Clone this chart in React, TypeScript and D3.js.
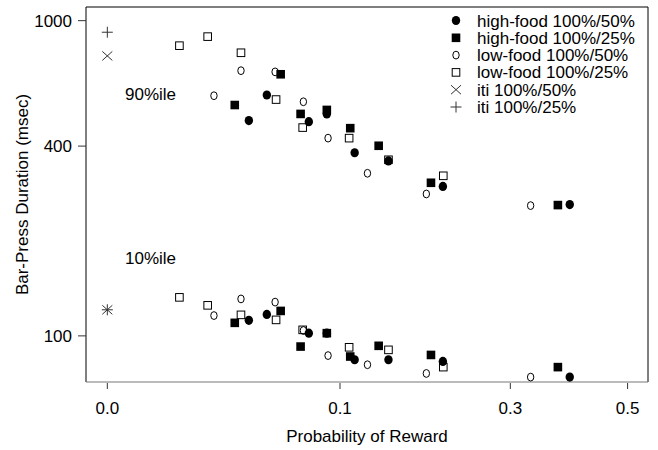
import React from "react";
import * as d3 from "d3";

const WIDTH = 658;
const HEIGHT = 450;
const PLOT = { left: 86, right: 648, top: 7, bottom: 382 };
const FONT = "'Liberation Sans', Arial, sans-serif";

// probability of reward (x) and the 90th / 10th percentile bar-press durations (msec)
const highFood50Prob = [0.037, 0.047, 0.075, 0.089, 0.113, 0.146, 0.208, 0.395];
const highFood50P90 = [482, 581, 478, 506, 381, 359, 298, 261];
const highFood50P10 = [112, 117, 102, 102, 84, 84, 83, 74];

const highFood25Prob = [0.030, 0.0555, 0.069, 0.089, 0.109, 0.136, 0.1935, 0.375];
const highFood25P90 = [540, 676, 506, 521, 456, 401, 306, 260];
const highFood25P10 = [110, 120, 92.5, 102, 86, 93, 87, 79.6];

const lowFood50Prob = [0.021, 0.033, 0.052, 0.071, 0.090, 0.125, 0.188, 0.331];
const lowFood50P90 = [578, 694, 688, 553, 424, 328, 282, 259];
const lowFood50P10 = [116, 131, 128, 104, 86.6, 81, 76, 74];

const lowFood25Prob = [0.0096, 0.0186, 0.033, 0.0526, 0.0705, 0.108, 0.146, 0.2085];
const lowFood25P90 = [833, 890, 791, 562, 458, 424, 362, 322];
const lowFood25P10 = [132.5, 125, 116.6, 112.4, 104.5, 92, 90.3, 79.6];

const iti50Prob = [0];
const iti50P90 = [773];
const iti50P10 = [121];

const iti25Prob = [0];
const iti25P90 = [919];
const iti25P10 = [121];

const xTicks = [0, 0.1, 0.3, 0.5];
const xTickLabels = ["0.0", "0.1", "0.3", "0.5"];
const yTicks = [100, 400, 1000];

const series = [
  { name: "high-food 100%/50%", shape: "dot", prob: highFood50Prob, p90: highFood50P90, p10: highFood50P10 },
  { name: "high-food 100%/25%", shape: "box", prob: highFood25Prob, p90: highFood25P90, p10: highFood25P10 },
  { name: "low-food 100%/50%", shape: "ring", prob: lowFood50Prob, p90: lowFood50P90, p10: lowFood50P10 },
  { name: "low-food 100%/25%", shape: "square", prob: lowFood25Prob, p90: lowFood25P90, p10: lowFood25P10 },
  { name: "iti 100%/50%", shape: "cross", prob: iti50Prob, p90: iti50P90, p10: iti50P10 },
  { name: "iti 100%/25%", shape: "plus", prob: iti25Prob, p90: iti25P90, p10: iti25P10 },
];

function Marker({ shape, x, y }: { shape: string; x: number; y: number }) {
  switch (shape) {
    case "dot":
      return <ellipse cx={x} cy={y} rx={4.2} ry={4.6} fill="#000" />;
    case "box":
      return <rect x={x - 4.3} y={y - 4.3} width={8.6} height={8.6} fill="#000" />;
    case "ring":
      return <ellipse cx={x} cy={y} rx={3.2} ry={3.9} fill="none" stroke="#000" strokeWidth={1} />;
    case "square":
      return <rect x={x - 3.8} y={y - 3.8} width={7.6} height={7.6} fill="none" stroke="#000" strokeWidth={1} />;
    case "cross":
      return (
        <path d={`M${x - 5},${y - 4.5}L${x + 5},${y + 4.5}M${x - 5},${y + 4.5}L${x + 5},${y - 4.5}`} stroke="#333" strokeWidth={1} />
      );
    default:
      return <path d={`M${x - 5.5},${y}L${x + 5.5},${y}M${x},${y - 5.5}L${x},${y + 5.5}`} stroke="#333" strokeWidth={1} />;
  }
}

export default function App() {
  // x is on a square-root scale, y is logarithmic
  const x = d3.scalePow().exponent(0.5).domain([-0.00084, 0.54]).range([PLOT.left, PLOT.right]);
  const y = d3.scaleLog().domain([71.4, 1105]).range([PLOT.bottom, PLOT.top]);

  return (
    <svg
      width={WIDTH}
      height={HEIGHT}
      style={{ position: "absolute", left: 0, top: 0, background: "#fff" }}
      fontFamily={FONT}
      fontSize={17}
    >
      <rect width={WIDTH} height={HEIGHT} fill="#fff" />

      {/* frame */}
      <path
        d={`M${PLOT.left},${PLOT.bottom}V${PLOT.top}H${PLOT.right}V${PLOT.bottom}`}
        fill="none"
        stroke="#000"
        strokeWidth={1}
      />
      <line x1={PLOT.left} x2={PLOT.right} y1={PLOT.bottom} y2={PLOT.bottom} stroke="#777" strokeWidth={1} />

      {/* x axis */}
      {xTicks.map((t, i) => (
        <g key={t}>
          <line x1={x(t)} x2={x(t)} y1={PLOT.bottom + 1} y2={PLOT.bottom + 7} stroke="#333" />
          <text x={x(t)} y={413.5} textAnchor="middle">
            {xTickLabels[i]}
          </text>
        </g>
      ))}
      <text x={(PLOT.left + PLOT.right) / 2} y={442} textAnchor="middle">
        Probability of Reward
      </text>

      {/* y axis */}
      {yTicks.map((t) => (
        <g key={t}>
          <line x1={PLOT.left - 8} x2={PLOT.left} y1={y(t)} y2={y(t)} stroke="#333" />
          <text x={72} y={y(t) + 6} textAnchor="end">
            {t}
          </text>
        </g>
      ))}
      <text
        transform={`translate(27.5,${(PLOT.top + PLOT.bottom) / 2}) rotate(-90)`}
        textAnchor="middle"
      >
        Bar-Press Duration (msec)
      </text>

      <text x={125} y={100}>90%ile</text>
      <text x={125} y={263.5}>10%ile</text>

      {/* points */}
      {series.map((s) => (
        <g key={s.name}>
          {s.prob.map((p, i) => (
            <Marker key={`h${i}`} shape={s.shape} x={x(p)} y={y(s.p90[i])} />
          ))}
          {s.prob.map((p, i) => (
            <Marker key={`l${i}`} shape={s.shape} x={x(p)} y={y(s.p10[i])} />
          ))}
        </g>
      ))}

      {/* legend */}
      {series.map((s, i) => (
        <g key={s.name} transform={`translate(0,${20.5 + i * 17.3})`}>
          <Marker shape={s.shape} x={456} y={0} />
          <text x={477} y={6}>
            {s.name}
          </text>
        </g>
      ))}
    </svg>
  );
}
